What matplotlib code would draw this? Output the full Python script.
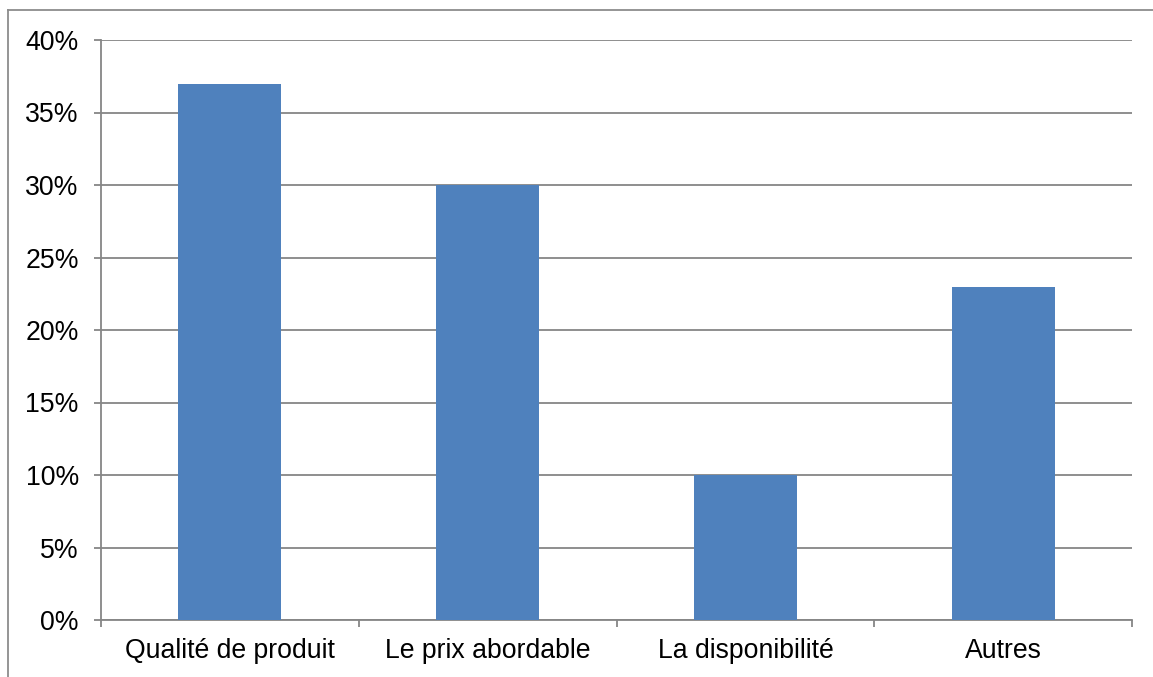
import matplotlib
matplotlib.use("Agg")
import matplotlib.pyplot as plt
from matplotlib.ticker import FixedLocator, NullFormatter, PercentFormatter
from matplotlib.lines import Line2D

categories = ["Qualité de produit", "Le prix abordable", "La disponibilité", "Autres"]
values = [0.37, 0.30, 0.10, 0.23]
yticks = [0.0, 0.05, 0.10, 0.15, 0.20, 0.25, 0.30, 0.35, 0.40]

plt.rcParams['font.family'] = ['Liberation Sans', 'DejaVu Sans']

W, H = 1153, 677
fig = plt.figure(figsize=(W / 100, H / 100), dpi=100)
ax = fig.add_axes([101 / W, 1 - 620 / H, (1132 - 101) / W, (620 - 40) / H])

grid_c = "#868686"
x = list(range(len(categories)))
ax.bar(x, values, width=0.4, color="#4F81BD", zorder=3)
ax.set_xlim(-0.5, len(categories) - 0.5)
ax.set_ylim(0, 0.40)
ax.set_yticks(yticks)
ax.yaxis.set_major_formatter(PercentFormatter(1.0, decimals=0))
ax.yaxis.grid(True, color=grid_c, linewidth=1.3, zorder=0)
ax.set_axisbelow(True)

ax.xaxis.set_major_locator(FixedLocator(x))
ax.set_xticklabels(categories)
ax.tick_params(axis='x', which='major', length=0, pad=13, labelsize=19.2)
ax.xaxis.set_minor_locator(FixedLocator([i - 0.5 for i in range(len(categories) + 1)]))
ax.xaxis.set_minor_formatter(NullFormatter())
ax.tick_params(axis='x', which='minor', length=5, color=grid_c, width=1.3)
ax.tick_params(axis='y', length=5, color=grid_c, width=1.3, labelsize=19.2, pad=11)

for s in ['top', 'right']:
    ax.spines[s].set_visible(False)
for s in ['left', 'bottom']:
    ax.spines[s].set_color(grid_c)
    ax.spines[s].set_linewidth(1.3)

# outer frame (partially visible)
fig.add_artist(Line2D([8 / W, 8 / W], [0, 1 - 10 / H], color="#8c8c8c", linewidth=1.3, transform=fig.transFigure))
fig.add_artist(Line2D([8 / W, 1], [1 - 10 / H, 1 - 10 / H], color="#8c8c8c", linewidth=1.3, transform=fig.transFigure))

fig.savefig("out.png", dpi=100)
